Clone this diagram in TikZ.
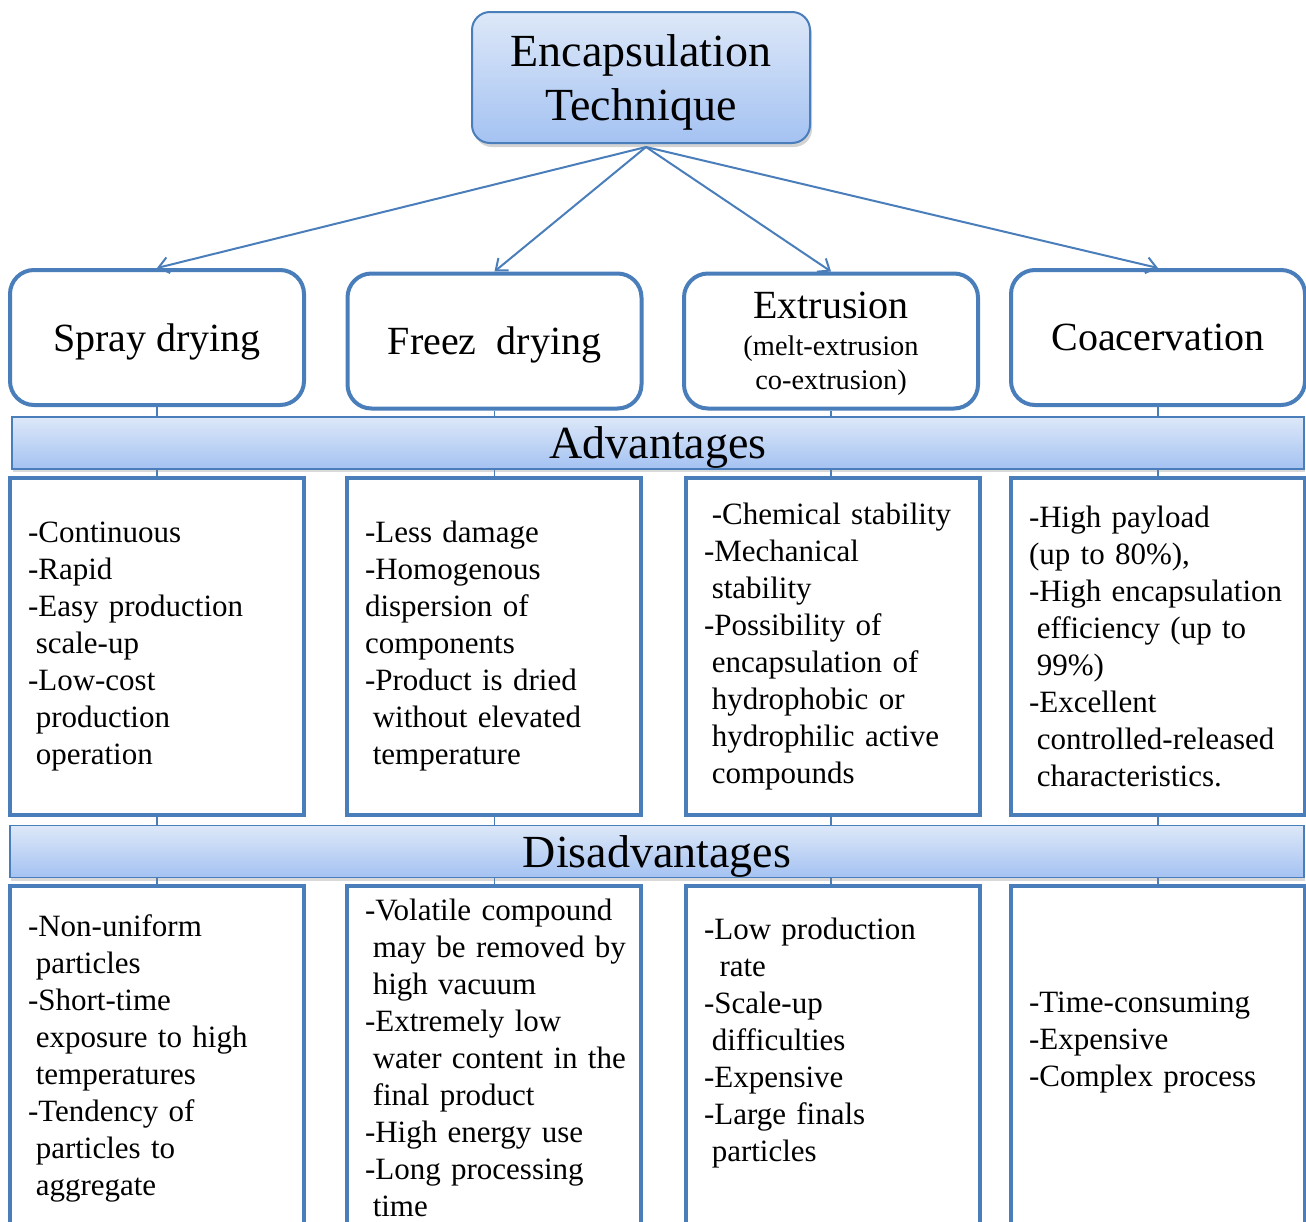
\documentclass[tikz,border=0pt]{standalone}
\usepackage{fontspec}
\setmainfont{Liberation Serif}
\usepackage{tikz}
\usetikzlibrary{positioning, shadows, arrows.meta, backgrounds}
\usepackage{xcolor}
\definecolor{edgeblue}{HTML}{4A7EBB}
\definecolor{paleblue}{HTML}{DDE8F8}
\definecolor{deepblue}{HTML}{A4C2F2}
\newcommand{\ind}{\hspace*{0.25em}}
\newcommand{\subfont}{\fontsize{14.2}{17}\selectfont}
\newcommand{\listfont}{\fontsize{15.5}{18.5}\selectfont\hyphenpenalty=10000\relax}

\begin{document}
\begin{tikzpicture}[x=0.5pt, y=-0.5pt,
	topbox/.style={draw=edgeblue, line width=1pt, rounded corners=9pt, top color=paleblue, bottom color=deepblue,
		minimum width=169pt, minimum height=65.5pt, align=center, font=\fontsize{23}{27}\selectfont, text depth=0pt,
		drop shadow={opacity=0.35, shadow xshift=1pt, shadow yshift=-2pt}},
	method/.style={draw=edgeblue, line width=2pt, rounded corners=12pt, fill=white, text depth=0pt,
		minimum width=147pt, minimum height=67.5pt, align=center, font=\fontsize{20}{24}\selectfont},
	band/.style={draw=edgeblue, line width=0.8pt, top color=paleblue, bottom color=deepblue,
		minimum height=26pt, font=\fontsize{23}{27}\selectfont, text depth=0pt,
		drop shadow={opacity=0.3, shadow xshift=0.5pt, shadow yshift=-1.5pt}},
	listbox/.style={draw=edgeblue, line width=1.8pt, fill=white, text width=129pt, inner xsep=9pt, inner ysep=2pt,
		align=left, font=\listfont},
	arr/.style={draw=edgeblue, line width=1pt, -{Straight Barb[length=5pt,width=8pt]}},
	link/.style={draw=edgeblue, line width=0.8pt}]
	\useasboundingbox (0,0) rectangle (1306,1221);
	\clip (0,0) rectangle (1306,1221);
	% Top
	\node[topbox] (enc) at (641,77.5) {Encapsulation\\Technique};
	% Techniques
	\node[method] (spray) at (157,337.5) {Spray drying};
	\node[method] (freez) at (494.5,341) {Freez\ \ drying};
	\node[method] (extr) at (831,341) {Extrusion\\[-5.5pt]\subfont(melt-extrusion\\[-7pt]\subfont co-extrusion)};
	\node[method] (coac) at (1158,337.5) {Coacervation};
	% Arrows
	\coordinate (hub) at ([xshift=2.5pt,yshift=-1.5pt]enc.south);
	\foreach \t in {spray,freez,extr,coac}
		\draw[arr] (hub) -- (\t.north);
	% Bands
	\node[band, minimum width=646pt] (adv) at (658,443) {Advantages};
	\node[band, minimum width=647pt] (dis) at (657,851.5) {Disadvantages};
	% Advantages
	\node[listbox, minimum height=168.5pt] (sprayA) at (157,646.5) {-Continuous\\-Rapid\\-Easy production\\\ind scale-up\\-Low-cost\\\ind production\\\ind operation};
	\node[listbox, minimum height=168.5pt] (freezA) at (494,646.5) {-Less damage\\-Homogenous\\dispersion of\\components\\-Product is dried\\\ind without elevated\\\ind temperature};
	\node[listbox, minimum height=168.5pt] (extrA) at (833,646.5) {\ind -Chemical stability\\-Mechanical\\\ind stability\\-Possibility of\\\ind encapsulation of\\\ind hydrophobic or\\\ind hydrophilic active\\\ind compounds};
	\node[listbox, minimum height=168.5pt] (coacA) at (1158,646.5) {-High payload\\(up to 80\%),\\-High encapsulation\\\ind efficiency (up to\\\ind 99\%)\\-Excellent\\\ind controlled-released\\\ind characteristics.};
	% Disadvantages
	\node[listbox, minimum height=172pt] (sprayD) at (157,1058) {-Non-uniform\\\ind particles\\-Short-time\\\ind exposure to high\\\ind temperatures\\-Tendency of\\\ind particles to\\\ind aggregate};
	\node[listbox, minimum height=172pt] (freezD) at (494,1058) {-Volatile compound\\\ind\mbox{may be removed by}\\\ind high vacuum\\-Extremely low\\\ind\mbox{water content in the}\\\ind final product\\-High energy use\\-Long processing\\\ind time};
	\node[listbox, minimum height=172pt] (extrD) at (833,1058) {-Low production\\\ind\ind rate\\-Scale-up\\\ind difficulties\\-Expensive\\-Large finals\\\ind particles\\\mbox{}};
	\node[listbox, minimum height=172pt] (coacD) at (1158,1058) {-Time-consuming\\-Expensive\\-Complex process\\\mbox{}};
	% Links
	\begin{scope}[on background layer]
		\foreach \t in {spray,freez,extr,coac}
			\draw[link] (\t.south) -- (\t.south |- \t D.north);
	\end{scope}
\end{tikzpicture}
\end{document}
